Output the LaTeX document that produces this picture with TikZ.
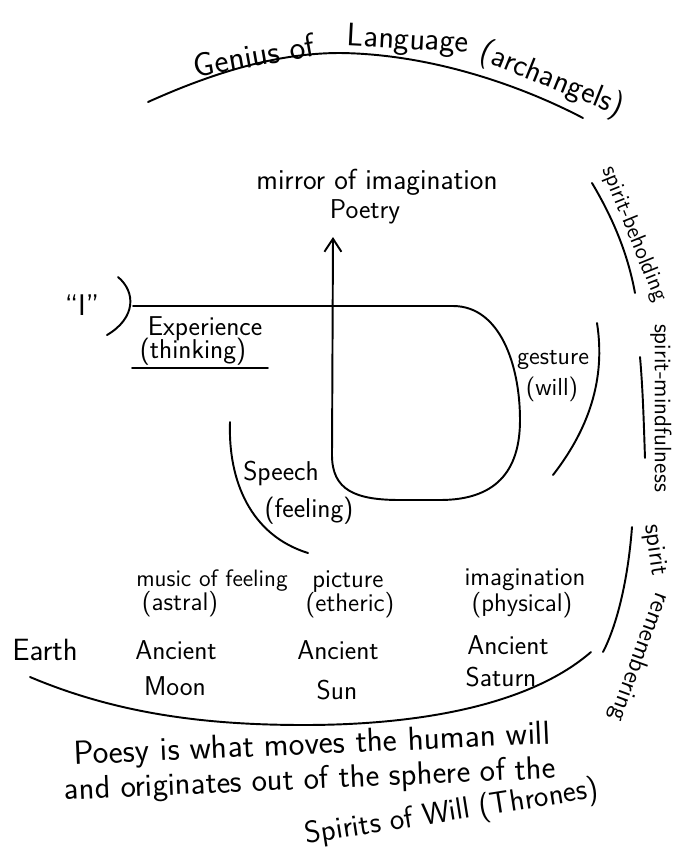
\documentclass[tikz,border=0pt]{standalone}
\usetikzlibrary{arrows.meta}

\begin{document}
\begin{tikzpicture}[
  x=0.02cm, y=-0.02cm,
  font=\sffamily,
  pen/.style={line width=1.1pt, line cap=round},
  flow/.style={pen, -{Straight Barb[length=2.6mm, width=3.4mm]}},
  hand/.style={inner sep=1pt, font=\sffamily\fontsize{#1}{#1}\selectfont},
  hand/.default=14.5,
]
\useasboundingbox (0,0) rectangle (677,853);

% ---------- genius of language ----------
\node[hand=19, rotate=10]  (tGen)  at (254,55) {Genius of};
\node[hand=18.5, rotate=-3] (tLang) at (408,41) {Language};
\node[hand=18, rotate=-22] (tArch) at (552,80) {(archangels)};
\draw[pen] (148,102) .. controls (230,65) and (290,53) .. (340,53)
  .. controls (430,54) and (520,85) .. (583,118);

% ---------- right border ----------
\node[hand=13, rotate=-68] (behold) at (634,234) {spirit-beholding};
\draw[pen] (592,183) .. controls (614,220) and (628,255) .. (635,293);
\node[hand=13.5, rotate=-90] (mindful) at (661,408) {spirit-mindfulness};
\draw[pen] (640,357) .. controls (643,390) and (644,430) .. (645,458);
\node[hand, rotate=-82]  (spRem) at (655,550) {spirit};
\node[hand, rotate=-110] (remem) at (639,657) {remembering};
\draw[pen] (632,527) .. controls (628,580) and (617,625) .. (603,652);

% ---------- centre: I, loop and poetry ----------
\node[hand=16.5] (mirror) at (377,182) {mirror of imagination};
\node[hand=15.5] (poetry) at (365,212) {Poetry};
\coordinate (tip) at (333,237);

\node[hand=17] (ich) at (82,305) {``I''};
\draw[pen] (118,277) .. controls (136,292) and (136,318) .. (107,335);
\coordinate (self) at (133,306);
\draw[flow] (self) -- (453,306) .. controls (500,306) and (520,365) .. (520,420)
  .. controls (520,472) and (495,500) .. (440,500) -- (400,500)
  .. controls (355,500) and (332,490) .. (332,455) -- (tip);

\node[hand=15.5] (exper) at (205,329) {Experience};
\node[hand=15.5] (think) at (193,352) {(thinking)};
\draw[pen] (132,368) -- (268,368);

\node[hand=14] (gest) at (553,360) {gesture};
\node[hand=14] (will) at (552,389) {(will)};
\draw[pen] (597,323) .. controls (606,380) and (588,430) .. (553,475);

\node[hand=15.5] (speech) at (281,473) {Speech};
\node[hand=15.5] (feel)   at (309,511) {(feeling)};
\draw[pen] (230,422) .. controls (228,480) and (250,535) .. (308,553);

% ---------- members ----------
\node[hand=13.5] (music)  at (212,581) {music of feeling};
\node[hand] (astral) at (180,604) {(astral)};
\node[hand] (pict)   at (348,582) {picture};
\node[hand] (ether)  at (350,605) {(etheric)};
\node[hand] (imag)   at (525,580) {imagination};
\node[hand] (phys)   at (522,605) {(physical)};

\node[hand=17.5] (earth) at (45,650)  {Earth};
\node[hand=15.5] (anc1)  at (176,650) {Ancient};
\node[hand=15.5] (moon)  at (175,686) {Moon};
\node[hand=15.5] (anc2)  at (338,650) {Ancient};
\node[hand=15.5] (sun)   at (337,690) {Sun};
\node[hand=15.5] (anc3)  at (508,645) {Ancient};
\node[hand=15.5] (sat)   at (501,677) {Saturn};
\draw[pen] (30,677) .. controls (120,715) and (210,725) .. (304,725)
  .. controls (420,725) and (530,705) .. (591,652);

% ---------- poesy ----------
\node[hand=19, rotate=2.5] (poesy1) at (312,746) {Poesy is what moves the human will};
\node[hand=18.5, rotate=2.5] (poesy2) at (310,781) {and originates out of the sphere of the};
\node[hand=17.5, rotate=9]   (poesy3) at (452,813) {Spirits of Will (Thrones)};
\end{tikzpicture}
\end{document}
